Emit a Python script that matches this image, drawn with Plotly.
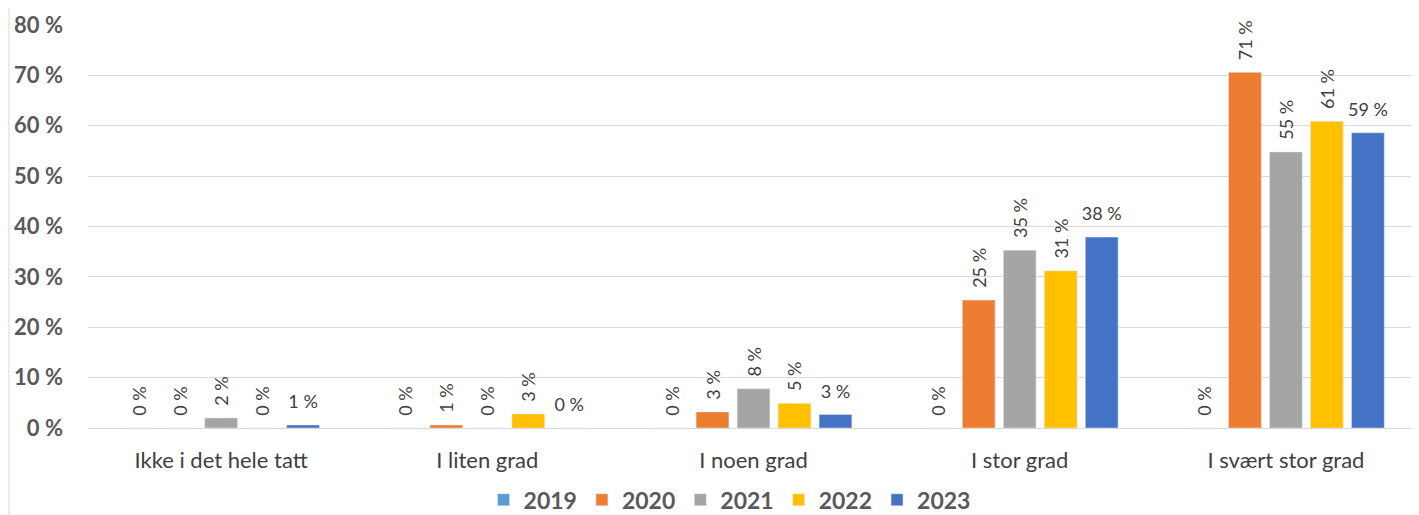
import plotly.graph_objects as go

categories = ["Ikke i det hele tatt", "I liten grad", "I noen grad", "I stor grad", "I svært stor grad"]
years = ["2019", "2020", "2021", "2022", "2023"]

v2019 = [0, 0, 0, 0, 0]
v2020 = [0, 0.6, 3.2, 25.4, 70.6]
v2021 = [2.0, 0, 7.8, 35.3, 54.8]
v2022 = [0, 2.8, 4.9, 31.2, 60.9]
v2023 = [0.6, 0, 2.7, 37.9, 58.6]

y_ticks = [0, 10, 20, 30, 40, 50, 60, 70, 80]

series = [v2019, v2020, v2021, v2022, v2023]
colors = ["#5B9BD5", "#ED7D31", "#A5A5A5", "#FFC000", "#4472C4"]
# Excel put the last series' labels horizontally, the rest rotated
angles = [-90, -90, -90, -90, 0]
pad = "\u00a0\u00a0"
templates = [pad + "%{y:.0f} %"] * 4 + ["<span style='font-size:18px'>%{y:.0f} %</span><br> "]
label_sizes = [18, 18, 18, 18, 9]

fig = go.Figure()
for name, vals, col, ang, tpl, fs in zip(years, series, colors, angles, templates, label_sizes):
    fig.add_trace(go.Bar(
        x=categories,
        y=vals,
        name=name,
        marker=dict(color=col),
        texttemplate=tpl,
        textposition="outside",
        textangle=ang,
        constraintext="none",
        textfont=dict(family="Lato", size=fs, color="#404040"),
        cliponaxis=False,
    ))

# the page body has an 8px margin, so the figure is a bit smaller than the window
fig.update_layout(
    width=1411,
    height=507,
    barmode="group",
    bargap=0.23,
    bargroupgap=0.2,
    plot_bgcolor="white",
    paper_bgcolor="white",
    margin=dict(l=80, r=0, t=17, b=87),
    font=dict(family="Lato", color="#595959"),
    legend=dict(
        orientation="h",
        x=0.482, xanchor="center",
        yref="container", y=0.03, yanchor="middle",
        font=dict(size=23, color="#595959", weight="bold"),
        itemwidth=30,
    ),
    xaxis=dict(
        automargin=False,
        showline=True,
        linecolor="#D9D9D9",
        tickfont=dict(size=22, color="#404040"),
        ticks="",
        ticklabelstandoff=13,
    ),
    yaxis=dict(
        automargin=False,
        range=[0, 80],
        tickvals=y_ticks,
        ticktext=[f"{t} %" for t in y_ticks],
        tickfont=dict(size=22, color="#595959", weight="bold"),
        gridcolor="#D9D9D9",
        zeroline=False,
        ticklabelstandoff=24,
    ),
    shapes=[dict(
        type="line", xref="paper", yref="paper",
        x0=-0.0594, x1=-0.0594, y0=-0.3, y1=1.1,
        line=dict(color="#D9D9D9", width=1),
    )],
)

fig.write_html("out.html")
